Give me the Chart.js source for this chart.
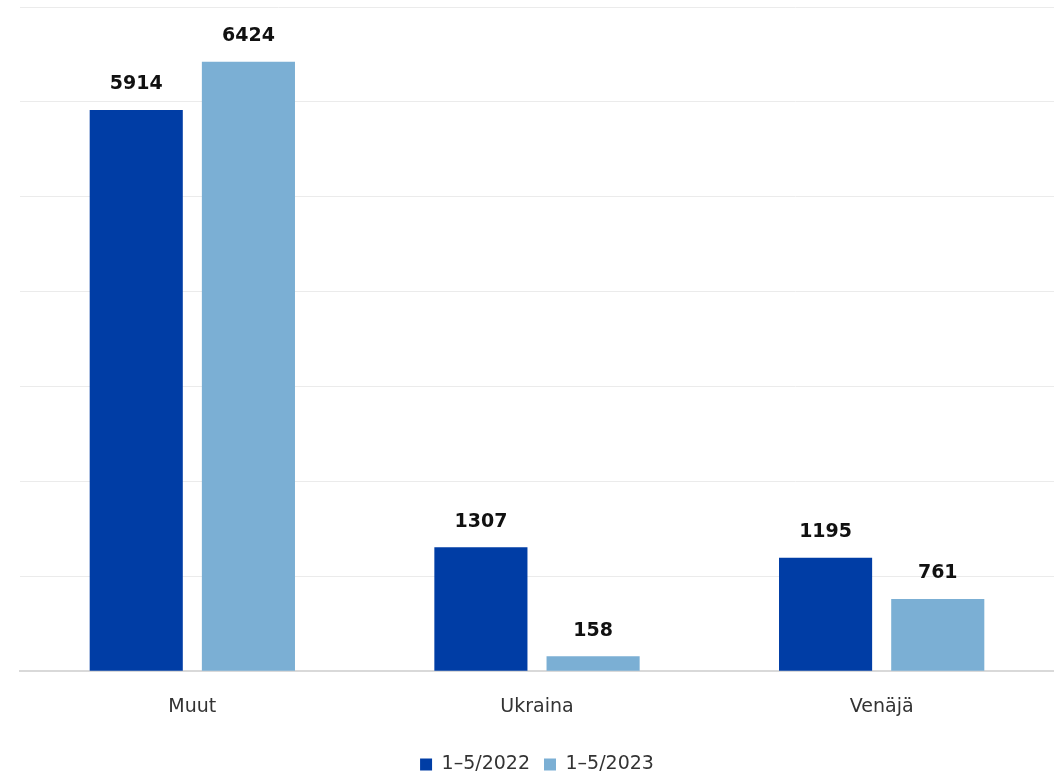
<!DOCTYPE html>
<html>
<head>
<meta charset="utf-8">
<script src="https://cdn.jsdelivr.net/npm/chart.js@4.4.0/dist/chart.umd.min.js"></script>
<style>
  html, body { margin: 0; padding: 0; background: #fff; }
  #wrap { width: 1054px; height: 775px; }
</style>
</head>
<body>
<div id="wrap"><canvas id="chart"></canvas></div>
<script>
const categories = ['Muut', 'Ukraina', 'Venäjä'];
const series2022 = [5914, 1307, 1195];
const series2023 = [6424, 158, 761];
const seriesLabels = ['1–5/2022', '1–5/2023'];

// value labels above each bar
const barValues = {
    id: 'barValues',
    afterDatasetsDraw(chart) {
        const ctx = chart.ctx;
        ctx.save();
        ctx.font = 'bold 19px "DejaVu Sans", sans-serif';
        ctx.fillStyle = '#111';
        ctx.textAlign = 'center';
        ctx.textBaseline = 'bottom';
        chart.data.datasets.forEach((ds, i) => {
            chart.getDatasetMeta(i).data.forEach((bar, j) => {
                ctx.fillText(ds.data[j], bar.x, bar.y - 16);
            });
        });
        ctx.restore();
    }
};

new Chart(document.getElementById('chart').getContext('2d'), {
    type: 'bar',
    data: {
        labels: categories,
        datasets: [{
            label: seriesLabels[0],
            data: series2022,
            backgroundColor: '#003da5'
        }, {
            label: seriesLabels[1],
            data: series2023,
            backgroundColor: '#7bafd4'
        }]
    },
    options: {
        responsive: true,
        maintainAspectRatio: false,
        animation: false,
        layout: { padding: { top: 7, left: 20, right: 0, bottom: -9 } },
        datasets: {
            bar: { categoryPercentage: 0.651, barPercentage: 0.83 }
        },
        scales: {
            x: {
                grid: { display: false },
                border: { color: '#d9d9d9', width: 2 },
                ticks: {
                    color: '#333',
                    font: { family: '"DejaVu Sans", sans-serif', size: 19 },
                    padding: 16
                },
                afterFit(scale) { scale.height += 7; }
            },
            y: {
                min: 0,
                max: 7000,
                ticks: { display: false, stepSize: 1000 },
                grid: { color: '#ebebeb', drawTicks: false },
                border: { display: false }
            }
        },
        plugins: {
            legend: {
                position: 'bottom',
                labels: {
                    color: '#333',
                    font: { family: '"DejaVu Sans", sans-serif', size: 19 },
                    boxWidth: 12,
                    boxHeight: 12,
                    padding: 14
                }
            },
            tooltip: { enabled: false }
        }
    },
    plugins: [barValues]
});
</script>
</body>
</html>
